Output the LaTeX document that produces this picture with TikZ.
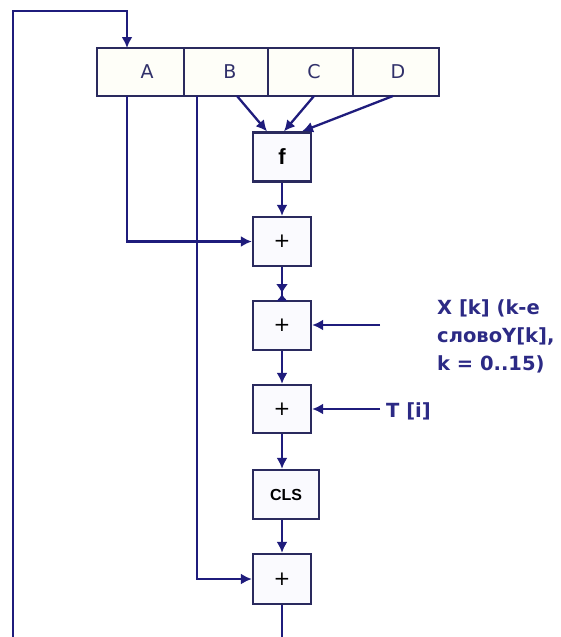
\documentclass[tikz,border=0pt]{standalone}
\usepackage{fontspec}
\setmainfont{DejaVu Sans}
\newfontfamily\arialbold{Liberation Sans}
\usetikzlibrary{arrows.meta,decorations.markings,calc}
\definecolor{navy}{HTML}{1F1C7C}
\definecolor{boxline}{HTML}{2A2A5E}
\definecolor{txtblue}{HTML}{2C2A85}
\definecolor{regtxt}{HTML}{30306A}
\definecolor{boxfill}{HTML}{FAFAFE}
\definecolor{regfill}{HTML}{FEFEF8}
\begin{document}
\begin{tikzpicture}[x=1pt,y=-1pt,
  conn/.style={draw=navy,line width=2.3pt},
  arr/.style={conn,-{Latex[length=11pt,width=11pt]}},
  blk/.style={draw=boxline,line width=2.3pt,fill=boxfill,minimum width=58pt,minimum height=49pt,inner sep=0pt},
  regcell/.style={draw=boxline,line width=2.3pt,fill=regfill,minimum height=48pt,inner sep=0pt},
  reglabel/.style={font=\fontsize{19}{20}\selectfont,text=regtxt,inner sep=0pt},
  plus/.style={blk,font=\fontsize{20}{20}\selectfont},
  sidetext/.style={font=\bfseries\fontsize{19.5}{28}\selectfont,text=txtblue,inner sep=0pt,anchor=west,align=left}
]
\useasboundingbox (0,0) rectangle (560,637);
% register
\node[regcell,minimum width=87pt] (rA) at (140.5,72) {};
\node[regcell,minimum width=84pt] (rB) at (226,72) {};
\node[regcell,minimum width=85pt] (rC) at (310.5,72) {};
\node[regcell,minimum width=86pt] (rD) at (396,72) {};
\node[reglabel] (lA) at (147,72) {A};
\node[reglabel] (lB) at (230,72) {B};
\node[reglabel] (lC) at (314,72) {C};
\node[reglabel] (lD) at (398,72) {D};
% blocks
\node[blk,font=\arialbold\bfseries\fontsize{22}{22}\selectfont] (f) at (282,157) {f};
\node[plus] (p1) at (282,241.5) {+};
\node[plus] (p2) at (282,325.5) {+};
\node[plus,minimum height=48pt] (p3) at (282,409) {+};
\node[blk,minimum width=66pt,font=\arialbold\bfseries\fontsize{16}{16}\selectfont] (cls) at (286,494.5) {CLS};
\node[plus,minimum height=50pt] (p5) at (282,579) {+};
% coordinates
\coordinate (loopbot) at (13,637);
\coordinate (looptop) at (13,11);
\coordinate (ain) at (127,48);
\coordinate (aout) at (127,96);
\coordinate (bout) at (197,96);
\coordinate (b1) at (237,96);
\coordinate (c1) at (314,96);
\coordinate (d1) at (393,96);
\coordinate (outb) at (282,637);
\coordinate (xin) at (380,325);
\coordinate (tin) at (380,409);
% connectors
\draw[arr] (loopbot) -- (looptop) -| (ain);
\draw[arr] (aout) |- (p1.west);
\draw[arr] (bout) |- (p5.west);
\draw[arr] (b1) -- ($(f.north)+(-15,0)$);
\draw[arr] (c1) -- ($(f.north)+(2,0)$);
\draw[arr] (d1) -- ($(f.north)+(20,0)$);
\draw[arr] (f) -- (p1);
\draw[conn,postaction={decorate},decoration={markings,
   mark=at position 26pt with {\arrow{Latex[length=9pt,width=12pt]}},
   mark=at position 27pt with {\arrowreversed{Latex[length=7pt,width=12pt]}}}]
   (p1.south) -- (p2.north);
\draw[arr] (p2) -- (p3);
\draw[arr] (p3.south) -- (p3.south |- cls.north);
\draw[arr] (p5.north |- cls.south) -- (p5.north);
\draw[conn] (p5.south) -- (outb);
\draw[arr] (xin) -- (xin -| p2.east);
\draw[arr] (tin) -- (tin -| p3.east);
% texts
\node[sidetext] (xt) at (437,336) {X [k] (k-e\\словоY[k],\\k = 0..15)};
\node[sidetext] (tt) at (386,411) {T [i]};
\end{tikzpicture}
\end{document}
